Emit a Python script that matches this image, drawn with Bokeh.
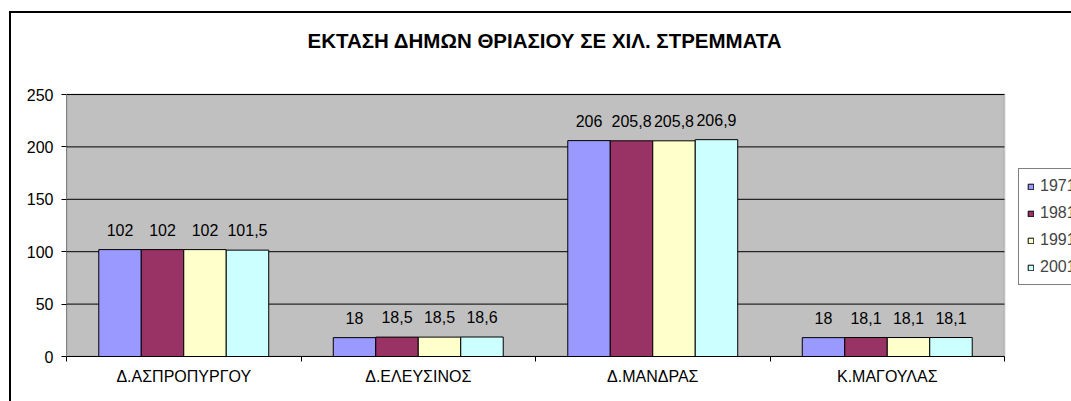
from bokeh.plotting import figure
from bokeh.models import (ColumnDataSource, FixedTicker, BoxAnnotation, Range1d,
                          InlineStyleSheet, Label)
from bokeh.core.properties import value
from bokeh.embed import file_html
from bokeh.resources import INLINE

# ---- data ----
title_text = "ΕΚΤΑΣΗ ΔΗΜΩΝ ΘΡΙΑΣΙΟΥ ΣΕ ΧΙΛ. ΣΤΡΕΜΜΑΤΑ"
categories = ["Δ.ΑΣΠΡΟΠΥΡΓΟΥ", "Δ.ΕΛΕΥΣΙΝΟΣ", "Δ.ΜΑΝΔΡΑΣ", "Κ.ΜΑΓΟΥΛΑΣ"]
years = ["1971", "1981", "1991", "2001"]
v1971 = [102, 18, 206, 18]
v1981 = [102, 18.5, 205.8, 18.1]
v1991 = [102, 18.5, 205.8, 18.1]
v2001 = [101.5, 18.6, 206.9, 18.1]
series = [v1971, v1981, v1991, v2001]
colors = ["#9999FF", "#993366", "#FFFFCC", "#CCFFFF"]
y_ticks = [0, 50, 100, 150, 200, 250]
y_max = 250

FONT = "Liberation Sans"
W, H = 1071, 401
PLOT_L, PLOT_R, PLOT_T, PLOT_B = 66, 1004, 94, 356   # visual plot-area box (px)

n = len(categories)
# the frame runs to the canvas's right and top edges; the gray plot area is drawn inside it
x_end = n * (W - PLOT_L) / (PLOT_R - PLOT_L)
y_end = y_max * PLOT_B / (PLOT_B - PLOT_T)

p = figure(width=W, height=H, output_backend="svg", toolbar_location=None,
           x_range=Range1d(0, x_end), y_range=Range1d(0, y_end),
           min_border_left=PLOT_L, min_border_right=0, min_border_top=0,
           min_border_bottom=H - PLOT_B)
p.background_fill_color = "white"
p.border_fill_color = "white"
p.outline_line_color = None

# gray plot area
p.add_layout(BoxAnnotation(left=0, right=n, bottom=0, top=y_max,
                           fill_color="#C0C0C0", fill_alpha=1,
                           line_color="#808080", line_width=2, level="underlay"))

# gridlines limited to the plot area
p.xgrid.visible = False
p.ygrid.visible = False
p.segment(x0=[0] * len(y_ticks), x1=[n] * len(y_ticks), y0=y_ticks, y1=y_ticks,
          line_color="black", line_width=1)

bw = 0.1812
offsets = [-1.5 * bw, -0.5 * bw, 0.5 * bw, 1.5 * bw]
for vals, yr, col, off in zip(series, years, colors, offsets):
    xs = [i + 0.5 + off for i in range(n)]
    src = ColumnDataSource(dict(x=xs, top=vals,
                                lbl=[str(v).replace(".", ",") for v in vals]))
    p.vbar(x="x", top="top", width=bw, source=src, fill_color=col,
           line_color="black", line_width=1, legend_label=yr)
    p.text(x="x", y="top", text="lbl", source=src, text_align="center",
           text_baseline="alphabetic", y_offset=-20, text_color="black",
           text_font=value(FONT), text_font_size="16px")

# y axis
p.yaxis.bounds = (0, y_max)
p.yaxis.ticker = FixedTicker(ticks=y_ticks)
p.yaxis.axis_line_color = "#808080"
p.yaxis.major_tick_line_color = "black"
p.yaxis.major_tick_out = 5
p.yaxis.major_tick_in = 0
p.yaxis.minor_tick_line_color = None
p.yaxis.major_label_standoff = 8
p.yaxis.major_label_text_font = FONT
p.yaxis.major_label_text_font_size = "16px"
p.yaxis.major_label_text_color = "black"

# x axis
centers = [i + 0.5 for i in range(n)]
bounds = list(range(n + 1))
p.xaxis.bounds = (0, n)
p.xaxis.ticker = FixedTicker(ticks=centers, minor_ticks=bounds)
p.xaxis.major_label_overrides = {c: name for c, name in zip(centers, categories)}
p.xaxis.axis_line_color = "black"
p.xaxis.major_tick_line_color = None
p.xaxis.major_tick_out = 0
p.xaxis.major_tick_in = 0
p.xaxis.minor_tick_line_color = "black"
p.xaxis.minor_tick_out = 5
p.xaxis.minor_tick_in = 0
p.xaxis.major_label_standoff = 6
p.xaxis.major_label_text_font = FONT
p.xaxis.major_label_text_font_size = "16px"
p.xaxis.major_label_text_color = "black"

# legend (runs off the right edge, as in the reference)
lg = p.legend[0]
lg.location = (1018 - PLOT_L, PLOT_B - 285)
lg.background_fill_color = "white"
lg.background_fill_alpha = 1
lg.border_line_color = "black"
lg.border_line_width = 1
lg.glyph_width = 7
lg.glyph_height = 7
lg.label_height = 7
lg.spacing = 9
lg.padding = 8
lg.margin = 0
lg.label_standoff = 6
lg.label_text_font = FONT
lg.label_text_font_size = "16px"
lg.label_text_baseline = "middle"

# title
p.add_layout(Label(x=307 - PLOT_L, y=PLOT_B - 40, x_units="screen", y_units="screen",
                   text=title_text, text_align="left", text_baseline="middle",
                   text_font=FONT, text_font_size="20.5px", text_font_style="bold",
                   text_color="black"))

# outer chart frame (top and left edges visible, the rest runs off-page)
p.stylesheets = [InlineStyleSheet(css="""
:host { overflow: hidden; }
:host::after {
  content: ""; position: absolute; left: 9px; top: 11px;
  width: 3000px; height: 3000px; box-sizing: border-box;
  border-left: 2px solid black; border-top: 2px solid black;
  pointer-events: none; z-index: 100;
}
""")]

open("out.html", "w").write(file_html(p, INLINE))
